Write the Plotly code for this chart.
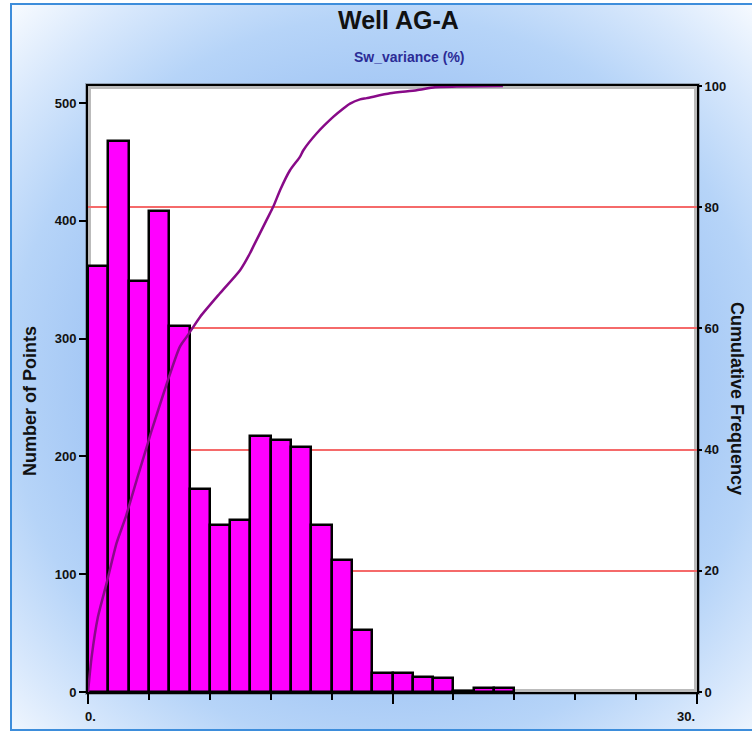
import base64
import plotly.graph_objects as go

# Histogram of Sw_variance (%), 1-unit bins starting at 0
bin_left = list(range(21))
bin_counts = [362, 468, 349, 408, 311, 172, 142, 146, 217, 214, 208,
              142, 112, 53, 16, 16, 13, 12, 1, 3, 3]

# Cumulative frequency curve (percent) along Sw_variance
cum_x = [0.0, 0.18, 0.49, 0.92, 1.41, 1.86, 2.40, 2.89, 3.14, 4.53, 4.86,
         5.52, 6.50, 7.49, 7.98, 8.14, 8.80, 9.13, 9.46, 9.95, 10.44, 10.61,
         11.27, 12.08, 12.58, 12.91, 13.40, 13.73, 14.88, 16.19, 17.09,
         18.16, 20.44]
cum_pct = [0.0, 5.8, 12.4, 18.0, 24.6, 28.9, 35.0, 40.4, 43.2, 57.0, 58.6,
           61.9, 65.8, 69.6, 72.4, 73.5, 77.9, 80.1, 82.8, 86.1, 88.3, 89.4,
           92.2, 94.9, 96.3, 97.1, 97.8, 98.0, 98.8, 99.3, 99.8,
           99.9, 100.0]

count_ticks = [0, 100, 200, 300, 400, 500]
pct_ticks = [0, 20, 40, 60, 80, 100]
x_tickvals = [0, 15, 30]
x_end_labels = [(0, "0."), (30, "30.")]

FONT = "Liberation Sans, Arial, sans-serif"

W, H = 752, 733
L, R, T, B = 88, 55, 86, 41
PW, PH = W - L - R, H - T - B


def px_x(px):
    return (px - L) / PW


def px_y(py):
    return (H - B - py) / PH


# soft blue radial background panel
svg = (
    '<svg xmlns="http://www.w3.org/2000/svg" width="750" height="726" '
    'viewBox="0 0 750 726" preserveAspectRatio="none"><defs>'
    '<radialGradient id="g" cx="0.5" cy="0.52" r="0.72">'
    '<stop offset="0" stop-color="#86b6f0"/>'
    '<stop offset="0.55" stop-color="#a5c8f5"/>'
    '<stop offset="0.7" stop-color="#b6d4f8"/>'
    '<stop offset="0.86" stop-color="#d8e8fc"/>'
    '<stop offset="1" stop-color="#f8fbff"/>'
    '</radialGradient></defs>'
    '<rect width="750" height="726" fill="url(#g)"/></svg>'
)
bg_src = "data:image/svg+xml;base64," + base64.b64encode(svg.encode()).decode()

fig = go.Figure()

fig.add_trace(go.Bar(
    x=[b + 0.5 for b in bin_left],
    y=bin_counts,
    width=1.0,
    marker=dict(color="#ff00ff", line=dict(color="#000000", width=2.5)),
    yaxis="y",
    showlegend=False,
    hoverinfo="x+y",
))

fig.add_trace(go.Scatter(
    x=cum_x,
    y=cum_pct,
    mode="lines",
    line=dict(color="#880a88", width=2.5, shape="spline", smoothing=0.6),
    yaxis="y2",
    showlegend=False,
))

tick_font = dict(family=FONT, size=13, color="#111111", weight="bold")

x_label_annotations = [
    dict(text=txt, xref="x", yref="paper", x=xv, y=px_y(716),
         xanchor="center" if xv == 0 else "right", yanchor="middle",
         xshift=2 if xv == 0 else 0, showarrow=False,
         font=tick_font)
    for xv, txt in x_end_labels
]

fig.update_layout(
    width=W,
    height=H,
    margin=dict(l=L, r=R, t=T, b=B, pad=0),
    paper_bgcolor="#ffffff",
    plot_bgcolor="rgba(0,0,0,0)",
    bargap=0,
    xaxis=dict(
        range=[0, 30],
        tickvals=x_tickvals,
        showticklabels=False,
        ticks="outside",
        ticklen=10,
        tickwidth=2,
        tickcolor="#000000",
        minor=dict(dtick=3, ticks="outside", ticklen=6, tickwidth=2,
                   tickcolor="#000000", showgrid=False),
        showline=True,
        linecolor="#000000",
        linewidth=2,
        mirror=True,
        showgrid=False,
        zeroline=False,
    ),
    yaxis=dict(
        range=[0, 514.4],
        tickvals=count_ticks,
        ticks="outside",
        ticklen=7,
        tickwidth=2,
        tickcolor="#000000",
        showline=True,
        linecolor="#000000",
        linewidth=2,
        showgrid=False,
        zeroline=False,
        tickfont=tick_font,
    ),
    yaxis2=dict(
        range=[0, 100],
        tickvals=pct_ticks,
        overlaying="y",
        side="right",
        ticks="outside",
        ticklen=3,
        tickwidth=2,
        tickcolor="#000000",
        showline=True,
        linecolor="#000000",
        linewidth=2,
        showgrid=True,
        gridcolor="#f56a6a",
        gridwidth=2,
        zeroline=False,
        tickfont=tick_font,
    ),
    images=[dict(
        source=bg_src,
        xref="paper", yref="paper",
        x=px_x(11), y=px_y(4),
        sizex=(761 - 11) / PW, sizey=(730 - 4) / PH,
        xanchor="left", yanchor="top",
        sizing="stretch",
        layer="below",
    )],
    shapes=[
        # outer panel border
        dict(type="rect", xref="paper", yref="paper", layer="below",
             x0=px_x(11), x1=px_x(761), y0=px_y(730), y1=px_y(4),
             line=dict(color="#3d8ddb", width=2), fillcolor="rgba(0,0,0,0)"),
        # plot frame shadow and white plotting area
        dict(type="rect", xref="paper", yref="paper", layer="below",
             x0=0, x1=1, y0=0, y1=1,
             line=dict(color="rgba(60,60,60,0.35)", width=6),
             fillcolor="#ffffff"),
    ],
    annotations=[
        dict(text="Well AG-A", xref="paper", yref="paper",
             x=px_x(398), y=px_y(20), showarrow=False,
             xanchor="center", yanchor="middle",
             font=dict(family=FONT, size=25, color="#111111", weight="bold")),
        dict(text="Sw_variance (%)", xref="paper", yref="paper",
             x=px_x(409), y=px_y(57), showarrow=False,
             xanchor="center", yanchor="middle",
             font=dict(family=FONT, size=14, color="#2b2b96", weight="bold")),
        dict(text="Number of Points", xref="paper", yref="paper",
             x=px_x(30), y=px_y(401), showarrow=False, textangle=-90,
             xanchor="center", yanchor="middle",
             font=dict(family=FONT, size=18, color="#111111", weight="bold")),
        dict(text="Cumulative Frequency", xref="paper", yref="paper",
             x=px_x(737), y=px_y(398), showarrow=False, textangle=90,
             xanchor="center", yanchor="middle",
             font=dict(family=FONT, size=18, color="#111111", weight="bold")),
    ] + x_label_annotations,
)

fig.write_html("out.html")
